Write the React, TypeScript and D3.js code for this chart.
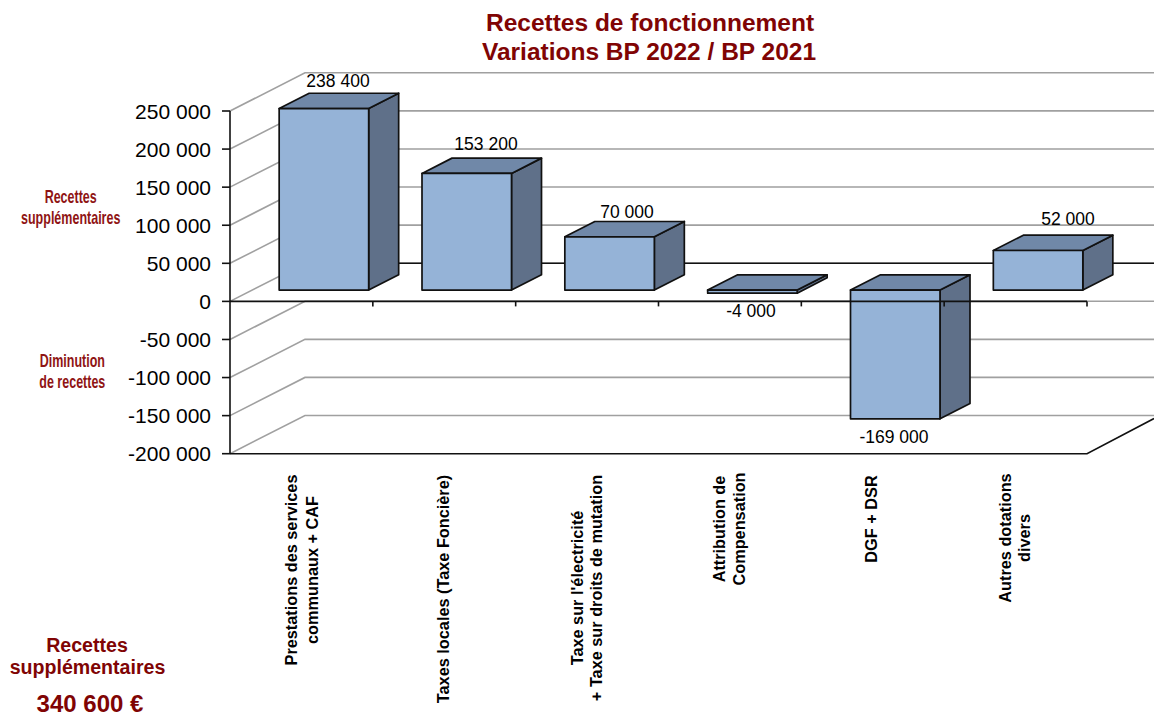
import React from "react";
import * as d3 from "d3";

const categories: string[][] = [
  ["Prestations des services", "communaux + CAF"],
  ["Taxes locales (Taxe Foncière)"],
  ["Taxe sur l'électricité", "+ Taxe sur droits de mutation"],
  ["Attribution de", "Compensation"],
  ["DGF + DSR"],
  ["Autres dotations", "divers"],
];
const values = [238400, 153200, 70000, -4000, -169000, 52000];
const valueLabels = ["238 400", "153 200", "70 000", "-4 000", "-169 000", "52 000"];
const ticks = [250000, 200000, 150000, 100000, 50000, 0, -50000, -100000, -150000, -200000];

const dark = "#800404";
const y = d3.scaleLinear().domain([-200000, 250000]).range([453.7, 111]);
const x = d3.scaleBand<number>().domain(d3.range(6)).range([230, 1087]);
const fmt = (v: number) => {
  const s = String(Math.abs(v)).replace(/\B(?=(\d{3})+$)/g, " ");
  return (v < 0 ? "-" : "") + s;
};
const WALL_DX = 75, WALL_DY = -38.2;
const BAR_DX = 30, BAR_DY = -15.3;
const OFF_X = 22.5, OFF_Y = -11.3;
const BAR_W = 89.5;
const FONT = "'Liberation Sans', Arial, sans-serif";
const line = d3.line();
const poly = (p: [number, number][]) => line(p)! + "Z";

const labelPos: [number, number][] = [[338, 87], [486, 150], [627, 218], [751, 317], [894, 443], [1068, 225]];
const catCentre = [570, 589, 588, 529, 519, 538];
const catBase: number[][] = [[297, 317.5], [448.5], [582.5, 601.7], [725, 745], [877], [1011, 1030]];

export default function App() {
  return (
    <svg width={1154} height={717} style={{ position: "absolute", left: 0, top: 0, background: "#fff" }} fontFamily={FONT}>
      <g fill={dark} fontWeight="bold" fontSize={24.5} textAnchor="middle">
        <text x={650} y={31}>Recettes de fonctionnement</text>
        <text x={649} y={60}>Variations BP 2022 / BP 2021</text>
      </g>
      {ticks.map((t) => (
        <path key={t} d={line([[230, y(t)], [230 + WALL_DX, y(t) + WALL_DY], [1154, y(t) + WALL_DY]])!} stroke="#a0a0a0" strokeWidth={1.6} fill="none" />
      ))}
      <path d={line([[230 + WALL_DX, y(0) + WALL_DY], [1154, y(0) + WALL_DY]])!} stroke="#111" strokeWidth={1.6} />
      <path d={line([[230, y(-200000)], [1087, y(-200000)], [1154, y(-200000) + WALL_DY + 3]])!} stroke="#111" strokeWidth={1.6} fill="none" />
      {values.map((v, i) => {
        const x0 = x(i)! + x.bandwidth() / 2 + OFF_X - BAR_W / 2;
        const x1 = x0 + BAR_W;
        const yZero = y(0) + OFF_Y;
        const yV = y(v) + OFF_Y;
        const top = Math.min(yZero, yV), bot = Math.max(yZero, yV);
        return (
          <g key={i} stroke="#111" strokeWidth={1.7} strokeLinejoin="round">
            <path d={poly([[x1, top], [x1 + BAR_DX, top + BAR_DY], [x1 + BAR_DX, bot + BAR_DY], [x1, bot]])} fill="#5F7089" />
            <path d={poly([[x0, top], [x1, top], [x1 + BAR_DX, top + BAR_DY], [x0 + BAR_DX, top + BAR_DY]])} fill="#7088A8" />
            <rect x={x0} y={top} width={BAR_W} height={bot - top} fill="#95B3D7" />
          </g>
        );
      })}
      <g stroke="#111" strokeWidth={1.6}>
        <path d={line([[230, y(250000)], [230, y(-200000)]])!} />
        <path d={line([[230, y(0)], [1087, y(0)]])!} />
        {ticks.map((t) => <path key={t} d={line([[222, y(t)], [230, y(t)]])!} />)}
        {d3.range(1, 7).map((i) => <path key={i} d={line([[230 + i * x.step(), y(0)], [230 + i * x.step(), y(0) + 5]])!} />)}
      </g>
      <g fontSize={21} fill="#000" textAnchor="end">
        {ticks.map((t) => <text key={t} x={211} y={y(t) + 7.5}>{fmt(t)}</text>)}
      </g>
      <g fontSize={17.5} fill="#000" textAnchor="middle">
        {valueLabels.map((l, i) => <text key={i} x={labelPos[i][0]} y={labelPos[i][1]}>{l}</text>)}
      </g>
      <g fontSize={16.3} fontWeight="bold" fill="#000" textAnchor="middle">
        {categories.map((c, i) =>
          c.map((s, j) => (
            <text key={j} transform={`translate(${catBase[i][j]},${catCentre[i]}) rotate(-90)`}>{s}</text>
          ))
        )}
      </g>
      <g fontSize={17.5} fontWeight="bold" fill="#8F1414" textAnchor="middle">
        <g transform="translate(70.7,0) scale(0.715,1)">
          <text y={202.7}>Recettes</text>
          <text y={224}>supplémentaires</text>
        </g>
        <g transform="translate(72.3,0) scale(0.715,1)">
          <text y={366.7}>Diminution</text>
          <text y={388}>de recettes</text>
        </g>
      </g>
      <g fontWeight="bold" fill={dark} textAnchor="middle">
        <text x={87} y={651.7} fontSize={19.6}>Recettes</text>
        <text x={87.5} y={674} fontSize={19.6}>supplémentaires</text>
        <text x={90} y={712} fontSize={24}>340 600 €</text>
      </g>
    </svg>
  );
}
